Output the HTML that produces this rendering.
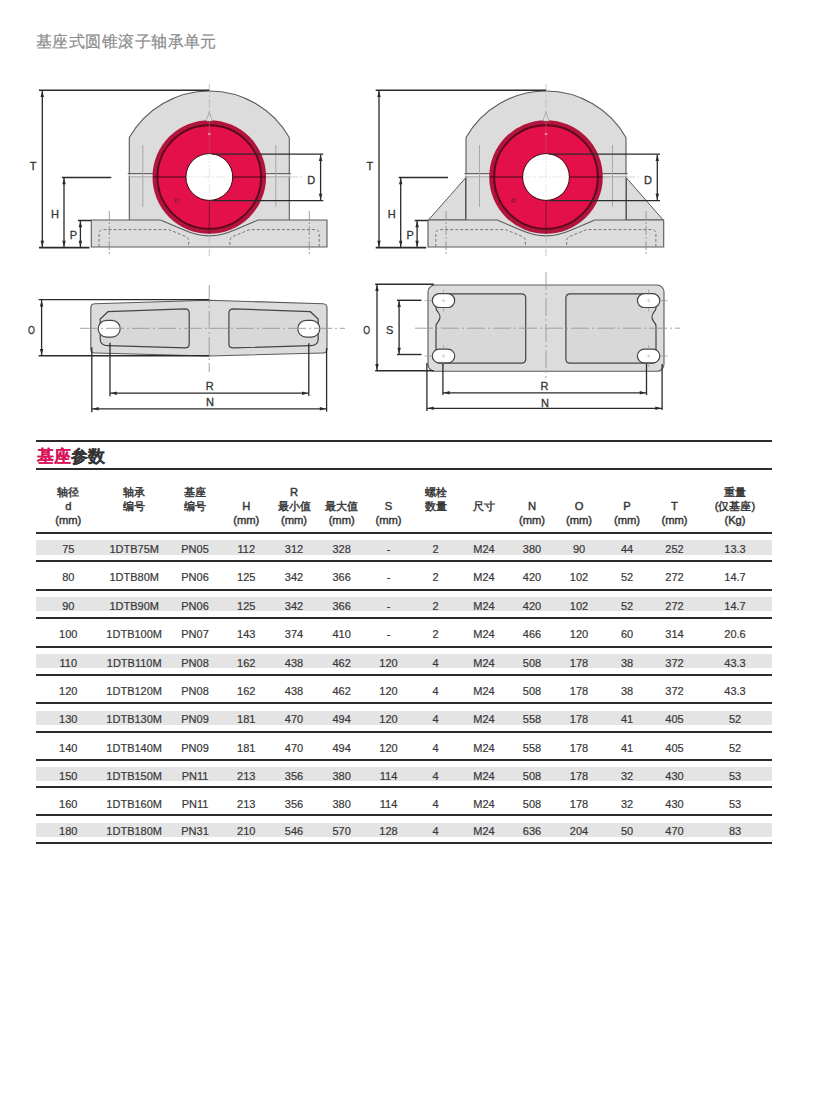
<!DOCTYPE html>
<html><head><meta charset="utf-8"><style>
html,body{margin:0;padding:0;background:#fff;}
body{width:830px;height:1114px;position:relative;overflow:hidden;font-family:"Liberation Sans",sans-serif;}
svg{position:absolute;left:0;top:0;}
svg text{font-family:"Liberation Sans",sans-serif;}
.title{position:absolute;left:36px;top:32.5px;font-size:15.5px;color:#8c8c8c;letter-spacing:0.45px;-webkit-text-stroke:0.2px #8c8c8c;line-height:18px;white-space:nowrap;}
.sec{position:absolute;left:37px;top:446px;font-size:16.5px;font-weight:bold;color:#333;-webkit-text-stroke:0.15px #333;line-height:20px;white-space:nowrap;}
.sec span{color:#d8145a;-webkit-text-stroke:0.15px #d8145a;}
.ln{position:absolute;left:36px;width:736px;background:#2b2b2b;}
.band{position:absolute;left:36px;width:736px;height:14.2px;background:#e4e4e5;}
.t{position:absolute;width:80px;text-align:center;white-space:nowrap;color:#383838;}
.h{font-size:11.2px;line-height:14px;-webkit-text-stroke:0.45px #383838;}
.d{font-size:11px;line-height:13px;-webkit-text-stroke:0.2px #383838;}
</style></head><body>
<div class="title">基座式圆锥滚子轴承单元</div>
<svg width="830" height="1114" viewBox="0 0 830 1114">
<g>
<path d="M129.3,221 L129.3,137.6 A92,92 0 0 1 289.3,137.6 L289.3,221 Z" fill="#dcdcdd" stroke="#5a5a5a" stroke-width="1.1"/>
<rect x="91.3" y="220" width="235.7" height="27" fill="#dcdcdd"/>
<path d="M160.5,220 L91.3,220 L91.3,247 L327,247 L327,220 L258.1,220" fill="none" stroke="#5a5a5a" stroke-width="1.1"/>
<path d="M160.5,220 L176.3,226.8 Q181.3,228.8 185.3,230.5 A58.6,58.6 0 0 0 233.3,230.5 Q237.3,228.8 242.3,226.8 L258.1,220" fill="none" stroke="#5a5a5a" stroke-width="1.1"/>
<line x1="127.80000000000001" y1="173.6" x2="290.8" y2="173.6" stroke="#666" stroke-width="1.1" />
<line x1="127.80000000000001" y1="175.2" x2="290.8" y2="175.2" stroke="#f4f4f4" stroke-width="1.0" />
<line x1="127.80000000000001" y1="176.9" x2="290.8" y2="176.9" stroke="#a8a8a8" stroke-width="1.0" />
<line x1="142.8" y1="145" x2="142.8" y2="207" stroke="#a8a8a8" stroke-width="1.0" />
<line x1="275.8" y1="145" x2="275.8" y2="207" stroke="#a8a8a8" stroke-width="1.0" />
<path d="M99.1,247 L99.1,234 Q99.1,229.6 103.3,229.6 L168.8,229.6 L185.8,236.5 Q188.70000000000002,238 188.70000000000002,241 L188.70000000000002,247" fill="none" stroke="#777" stroke-width="1" stroke-dasharray="3 2"/>
<path d="M319.2,247 L319.2,234 Q319.2,229.6 315,229.6 L249.8,229.6 L232.8,236.5 Q229.9,238 229.9,241 L229.9,247" fill="none" stroke="#777" stroke-width="1" stroke-dasharray="3 2"/>
<line x1="109.30000000000001" y1="211" x2="109.30000000000001" y2="256" stroke="#888" stroke-width="0.8" stroke-dasharray="9 2 2 2"/>
<line x1="309.3" y1="211" x2="309.3" y2="256" stroke="#888" stroke-width="0.8" stroke-dasharray="9 2 2 2"/>
<circle cx="209.3" cy="177" r="56.8" fill="#b3143d"/>
<circle cx="209.3" cy="177" r="51.8" fill="#e3104a" stroke="#5a0a1c" stroke-width="1.9"/>
<circle cx="209.3" cy="177" r="23.4" fill="#fff" stroke="#3a0a12" stroke-width="1"/>
<path d="M206.3,121 L209.3,112 L212.3,121 Z" fill="#eee" stroke="#888" stroke-width="0.6"/>
<circle cx="209.3" cy="134" r="1.3" fill="#f3b0c0"/>
<rect x="175.3" y="199" width="3" height="3" fill="none" stroke="#7a1a2a" stroke-width="0.8"/>
<line x1="209.3" y1="84" x2="209.3" y2="120" stroke="#b8b8b8" stroke-width="0.8" stroke-dasharray="9 2 2 2"/>
<line x1="209.3" y1="200.5" x2="209.3" y2="234" stroke="#6a1424" stroke-width="0.8" />
<line x1="209.3" y1="121" x2="209.3" y2="153.5" stroke="#c04a60" stroke-width="0.7" />
<line x1="209.3" y1="154" x2="209.3" y2="200" stroke="#dddddd" stroke-width="0.7" stroke-dasharray="9 2 2 2"/>
<line x1="186.3" y1="177" x2="232.3" y2="177" stroke="#dddddd" stroke-width="0.7" stroke-dasharray="9 2 2 2"/>
<line x1="209.3" y1="234" x2="209.3" y2="256" stroke="#b8b8b8" stroke-width="0.8" stroke-dasharray="9 2 2 2"/>
<line x1="289.3" y1="177" x2="304.3" y2="177" stroke="#c8c8c8" stroke-width="0.8" stroke-dasharray="9 2 2 2"/>
<line x1="153.3" y1="177" x2="186.3" y2="177" stroke="#3a0a12" stroke-width="1.2" />
<line x1="232.3" y1="177" x2="265.3" y2="177" stroke="#3a0a12" stroke-width="1.2" />
<line x1="39" y1="90.2" x2="209.3" y2="90.2" stroke="#2a2a2a" stroke-width="1.5" />
<line x1="39" y1="247.6" x2="89.5" y2="247.6" stroke="#2a2a2a" stroke-width="1.8" />
<line x1="42.3" y1="90" x2="42.3" y2="247.6" stroke="#2a2a2a" stroke-width="1.3" />
<polygon points="42.3,91 40.55,97 44.05,97" fill="#2a2a2a"/>
<polygon points="42.3,246.8 40.55,240.8 44.05,240.8" fill="#2a2a2a"/>
<text x="33.2" y="170" font-size="11" fill="#333" stroke="#333" stroke-width="0.3" text-anchor="middle">T</text>
<line x1="62" y1="177.5" x2="111.30000000000001" y2="177.5" stroke="#2a2a2a" stroke-width="1.3" />
<line x1="64" y1="177.5" x2="64" y2="247.6" stroke="#2a2a2a" stroke-width="1.3" />
<polygon points="64,178.3 62.25,184.3 65.75,184.3" fill="#2a2a2a"/>
<polygon points="64,246.8 62.25,240.8 65.75,240.8" fill="#2a2a2a"/>
<text x="55" y="218" font-size="11" fill="#333" stroke="#333" stroke-width="0.3" text-anchor="middle">H</text>
<line x1="78" y1="220.5" x2="91" y2="220.5" stroke="#2a2a2a" stroke-width="1.5" />
<line x1="80.4" y1="220.5" x2="80.4" y2="247.6" stroke="#2a2a2a" stroke-width="1.3" />
<polygon points="80.4,221.3 78.65,227.3 82.15,227.3" fill="#2a2a2a"/>
<polygon points="80.4,246.8 78.65,240.8 82.15,240.8" fill="#2a2a2a"/>
<text x="73.5" y="239" font-size="11" fill="#333" stroke="#333" stroke-width="0.3" text-anchor="middle">P</text>
<line x1="212.3" y1="154.2" x2="323.3" y2="154.2" stroke="#2a2a2a" stroke-width="1.3" />
<line x1="212.3" y1="200.6" x2="323.3" y2="200.6" stroke="#2a2a2a" stroke-width="1.3" />
<line x1="320.6" y1="154.2" x2="320.6" y2="200.6" stroke="#2a2a2a" stroke-width="1.3" />
<polygon points="320.6,155 318.85,161 322.35,161" fill="#2a2a2a"/>
<polygon points="320.6,199.8 318.85,193.8 322.35,193.8" fill="#2a2a2a"/>
<text x="311.3" y="183.5" font-size="11" fill="#333" stroke="#333" stroke-width="0.3" text-anchor="middle">D</text>
</g>
<g>
<polygon points="428.5,220 465.5,178 465.5,220" fill="#dcdcdd" stroke="#5a5a5a" stroke-width="1"/>
<polygon points="663.2,220 626.5,178 626.5,220" fill="#dcdcdd" stroke="#5a5a5a" stroke-width="1"/>
<path d="M466.0,221 L466.0,137.6 A92,92 0 0 1 626.0,137.6 L626.0,221 Z" fill="#dcdcdd" stroke="#5a5a5a" stroke-width="1.1"/>
<rect x="428.0" y="220" width="235.70000000000005" height="27" fill="#dcdcdd"/>
<path d="M497.2,220 L428.0,220 L428.0,247 L663.7,247 L663.7,220 L594.8,220" fill="none" stroke="#5a5a5a" stroke-width="1.1"/>
<path d="M497.2,220 L513.0,226.8 Q518.0,228.8 522.0,230.5 A58.6,58.6 0 0 0 570.0,230.5 Q574.0,228.8 579.0,226.8 L594.8,220" fill="none" stroke="#5a5a5a" stroke-width="1.1"/>
<line x1="464.5" y1="173.6" x2="627.5" y2="173.6" stroke="#666" stroke-width="1.1" />
<line x1="464.5" y1="175.2" x2="627.5" y2="175.2" stroke="#f4f4f4" stroke-width="1.0" />
<line x1="464.5" y1="176.9" x2="627.5" y2="176.9" stroke="#a8a8a8" stroke-width="1.0" />
<line x1="479.5" y1="145" x2="479.5" y2="207" stroke="#a8a8a8" stroke-width="1.0" />
<line x1="612.5" y1="145" x2="612.5" y2="207" stroke="#a8a8a8" stroke-width="1.0" />
<path d="M435.8,247 L435.8,234 Q435.8,229.6 440.0,229.6 L505.5,229.6 L522.5,236.5 Q525.4,238 525.4,241 L525.4,247" fill="none" stroke="#777" stroke-width="1" stroke-dasharray="3 2"/>
<path d="M655.9000000000001,247 L655.9000000000001,234 Q655.9000000000001,229.6 651.7,229.6 L586.5,229.6 L569.5,236.5 Q566.6,238 566.6,241 L566.6,247" fill="none" stroke="#777" stroke-width="1" stroke-dasharray="3 2"/>
<line x1="446.0" y1="211" x2="446.0" y2="256" stroke="#888" stroke-width="0.8" stroke-dasharray="9 2 2 2"/>
<line x1="646.0" y1="211" x2="646.0" y2="256" stroke="#888" stroke-width="0.8" stroke-dasharray="9 2 2 2"/>
<circle cx="546.0" cy="177" r="56.8" fill="#b3143d"/>
<circle cx="546.0" cy="177" r="51.8" fill="#e3104a" stroke="#5a0a1c" stroke-width="1.9"/>
<circle cx="546.0" cy="177" r="23.4" fill="#fff" stroke="#3a0a12" stroke-width="1"/>
<path d="M543.0,121 L546.0,112 L549.0,121 Z" fill="#eee" stroke="#888" stroke-width="0.6"/>
<circle cx="546.0" cy="134" r="1.3" fill="#f3b0c0"/>
<rect x="512.0" y="199" width="3" height="3" fill="none" stroke="#7a1a2a" stroke-width="0.8"/>
<line x1="546.0" y1="84" x2="546.0" y2="120" stroke="#b8b8b8" stroke-width="0.8" stroke-dasharray="9 2 2 2"/>
<line x1="546.0" y1="200.5" x2="546.0" y2="234" stroke="#6a1424" stroke-width="0.8" />
<line x1="546.0" y1="121" x2="546.0" y2="153.5" stroke="#c04a60" stroke-width="0.7" />
<line x1="546.0" y1="154" x2="546.0" y2="200" stroke="#dddddd" stroke-width="0.7" stroke-dasharray="9 2 2 2"/>
<line x1="523.0" y1="177" x2="569.0" y2="177" stroke="#dddddd" stroke-width="0.7" stroke-dasharray="9 2 2 2"/>
<line x1="546.0" y1="234" x2="546.0" y2="256" stroke="#b8b8b8" stroke-width="0.8" stroke-dasharray="9 2 2 2"/>
<line x1="626.0" y1="177" x2="641.0" y2="177" stroke="#c8c8c8" stroke-width="0.8" stroke-dasharray="9 2 2 2"/>
<line x1="490.0" y1="177" x2="523.0" y2="177" stroke="#3a0a12" stroke-width="1.2" />
<line x1="569.0" y1="177" x2="602.0" y2="177" stroke="#3a0a12" stroke-width="1.2" />
<line x1="375.7" y1="90.2" x2="546.0" y2="90.2" stroke="#2a2a2a" stroke-width="1.5" />
<line x1="375.7" y1="247.6" x2="426.2" y2="247.6" stroke="#2a2a2a" stroke-width="1.8" />
<line x1="379.0" y1="90" x2="379.0" y2="247.6" stroke="#2a2a2a" stroke-width="1.3" />
<polygon points="379.0,91 377.25,97 380.75,97" fill="#2a2a2a"/>
<polygon points="379.0,246.8 377.25,240.8 380.75,240.8" fill="#2a2a2a"/>
<text x="369.9" y="170" font-size="11" fill="#333" stroke="#333" stroke-width="0.3" text-anchor="middle">T</text>
<line x1="398.7" y1="177.5" x2="448.0" y2="177.5" stroke="#2a2a2a" stroke-width="1.3" />
<line x1="400.7" y1="177.5" x2="400.7" y2="247.6" stroke="#2a2a2a" stroke-width="1.3" />
<polygon points="400.7,178.3 398.95,184.3 402.45,184.3" fill="#2a2a2a"/>
<polygon points="400.7,246.8 398.95,240.8 402.45,240.8" fill="#2a2a2a"/>
<text x="391.7" y="218" font-size="11" fill="#333" stroke="#333" stroke-width="0.3" text-anchor="middle">H</text>
<line x1="414.7" y1="220.5" x2="427.7" y2="220.5" stroke="#2a2a2a" stroke-width="1.5" />
<line x1="417.1" y1="220.5" x2="417.1" y2="247.6" stroke="#2a2a2a" stroke-width="1.3" />
<polygon points="417.1,221.3 415.35,227.3 418.85,227.3" fill="#2a2a2a"/>
<polygon points="417.1,246.8 415.35,240.8 418.85,240.8" fill="#2a2a2a"/>
<text x="410.2" y="239" font-size="11" fill="#333" stroke="#333" stroke-width="0.3" text-anchor="middle">P</text>
<line x1="549.0" y1="154.2" x2="660.0" y2="154.2" stroke="#2a2a2a" stroke-width="1.3" />
<line x1="549.0" y1="200.6" x2="660.0" y2="200.6" stroke="#2a2a2a" stroke-width="1.3" />
<line x1="657.3" y1="154.2" x2="657.3" y2="200.6" stroke="#2a2a2a" stroke-width="1.3" />
<polygon points="657.3,155 655.55,161 659.05,161" fill="#2a2a2a"/>
<polygon points="657.3,199.8 655.55,193.8 659.05,193.8" fill="#2a2a2a"/>
<text x="648.0" y="183.5" font-size="11" fill="#333" stroke="#333" stroke-width="0.3" text-anchor="middle">D</text>
</g>
<path d="M94.8,303.8 L209.2,300.2 L323,303.8 Q327,304 327,308 L327,349 Q327,353 323,353 L209.2,356 L94.8,353 Q90.8,353 90.8,349 L90.8,308 Q90.8,303.8 94.8,303.8 Z" fill="#dcdcdd" stroke="#5a5a5a" stroke-width="1.1"/>
<path d="M108,311.7 L185,308.9 Q189.2,308.9 189.2,313 L189.2,344 Q189.2,347.9 185,347.9 L108,345.7 Q100.2,345.7 100.2,339 L100.2,319 Z" fill="#d8d8d9" stroke="#444" stroke-width="1.2"/>
<path d="M310.4,311.7 L233.4,308.9 Q228.9,308.9 228.9,313 L228.9,344 Q228.9,347.9 233.4,347.9 L310.4,345.7 Q318.2,345.7 318.2,339 L318.2,319 Z" fill="#d8d8d9" stroke="#444" stroke-width="1.2"/>
<rect x="98.2" y="320.3" width="22" height="16.8" rx="8.4" fill="#fff" stroke="#444" stroke-width="1.2"/>
<rect x="297.8" y="320.3" width="22" height="16.8" rx="8.4" fill="#fff" stroke="#444" stroke-width="1.2"/>
<line x1="80" y1="328.3" x2="345" y2="328.3" stroke="#999" stroke-width="0.9" stroke-dasharray="18 3 2 3"/>
<line x1="209.2" y1="285" x2="209.2" y2="372" stroke="#999" stroke-width="0.9" stroke-dasharray="18 3 2 3"/>
<line x1="38.7" y1="299.6" x2="209.2" y2="299.6" stroke="#2a2a2a" stroke-width="1.4" />
<line x1="38.7" y1="355.8" x2="209.2" y2="355.8" stroke="#2a2a2a" stroke-width="1.4" />
<line x1="41.6" y1="299.6" x2="41.6" y2="355.8" stroke="#2a2a2a" stroke-width="1.3" />
<polygon points="41.6,300.4 39.85,306.4 43.35,306.4" fill="#2a2a2a"/>
<polygon points="41.6,355 39.85,349 43.35,349" fill="#2a2a2a"/>
<text transform="translate(31.5,333.5) scale(0.8,1)" x="0" y="0" font-size="11" fill="#333" stroke="#333" stroke-width="0.3" text-anchor="middle">O</text>
<line x1="110" y1="342.8" x2="110" y2="396.3" stroke="#2a2a2a" stroke-width="1.3" />
<line x1="308.8" y1="343.2" x2="308.8" y2="395.9" stroke="#2a2a2a" stroke-width="1.3" />
<line x1="110" y1="393.2" x2="308.8" y2="393.2" stroke="#2a2a2a" stroke-width="1.3" />
<polygon points="110.8,393.2 116.8,391.45 116.8,394.95" fill="#2a2a2a"/>
<polygon points="308,393.2 302,391.45 302,394.95" fill="#2a2a2a"/>
<text x="209.7" y="389.8" font-size="11" fill="#333" stroke="#333" stroke-width="0.3" text-anchor="middle">R</text>
<line x1="91.8" y1="347.2" x2="91.8" y2="412.2" stroke="#2a2a2a" stroke-width="1.3" />
<line x1="326.6" y1="348" x2="326.6" y2="411.7" stroke="#2a2a2a" stroke-width="1.3" />
<line x1="91.8" y1="408.8" x2="326.6" y2="408.8" stroke="#2a2a2a" stroke-width="1.3" />
<polygon points="92.6,408.8 98.6,407.05 98.6,410.55" fill="#2a2a2a"/>
<polygon points="325.8,408.8 319.8,407.05 319.8,410.55" fill="#2a2a2a"/>
<text x="210" y="406.4" font-size="11" fill="#333" stroke="#333" stroke-width="0.3" text-anchor="middle">N</text>
<rect x="428" y="285" width="236" height="86.3" rx="7" fill="#dcdcdd" stroke="#5a5a5a" stroke-width="1.1"/>
<path d="M440,293.8 L521.5,293.8 Q525.7,293.8 525.7,298 L525.7,359 Q525.7,363.2 521.5,363.2 L440,363.2 Q436,363.2 436,359 L436,326 Q436,324 438,322 Q442,317 438,312 Q436,310 436,308 L436,298 Q436,293.8 440,293.8 Z" fill="#d8d8d9" stroke="#444" stroke-width="1.2"/>
<path d="M652,293.8 L570.1,293.8 Q565.9,293.8 565.9,298 L565.9,359 Q565.9,363.2 570.1,363.2 L652,363.2 Q656,363.2 656,359 L656,326 Q656,324 654,322 Q650,317 654,312 Q656,310 656,308 L656,298 Q656,293.8 652,293.8 Z" fill="#d8d8d9" stroke="#444" stroke-width="1.2"/>
<rect x="432.3" y="293.70000000000005" width="22.4" height="13.8" rx="6.9" fill="#fff" stroke="#444" stroke-width="1.2"/>
<line x1="441.5" y1="300.6" x2="445.5" y2="300.6" stroke="#c8c8c8" stroke-width="0.7" />
<line x1="443.5" y1="298.6" x2="443.5" y2="302.6" stroke="#c8c8c8" stroke-width="0.7" />
<line x1="432.0" y1="300.6" x2="424.5" y2="300.6" stroke="#9a9a9a" stroke-width="0.7" />
<line x1="443.5" y1="293.40000000000003" x2="443.5" y2="289.6" stroke="#9a9a9a" stroke-width="0.7" />
<line x1="443.5" y1="307.8" x2="443.5" y2="311.6" stroke="#9a9a9a" stroke-width="0.7" />
<rect x="432.3" y="349.1" width="22.4" height="13.8" rx="6.9" fill="#fff" stroke="#444" stroke-width="1.2"/>
<line x1="441.5" y1="356" x2="445.5" y2="356" stroke="#c8c8c8" stroke-width="0.7" />
<line x1="443.5" y1="354" x2="443.5" y2="358" stroke="#c8c8c8" stroke-width="0.7" />
<line x1="432.0" y1="356" x2="424.5" y2="356" stroke="#9a9a9a" stroke-width="0.7" />
<line x1="443.5" y1="348.8" x2="443.5" y2="345" stroke="#9a9a9a" stroke-width="0.7" />
<line x1="443.5" y1="363.2" x2="443.5" y2="367" stroke="#9a9a9a" stroke-width="0.7" />
<rect x="637.4" y="293.70000000000005" width="22.4" height="13.8" rx="6.9" fill="#fff" stroke="#444" stroke-width="1.2"/>
<line x1="646.6" y1="300.6" x2="650.6" y2="300.6" stroke="#c8c8c8" stroke-width="0.7" />
<line x1="648.6" y1="298.6" x2="648.6" y2="302.6" stroke="#c8c8c8" stroke-width="0.7" />
<line x1="660.1" y1="300.6" x2="667.6" y2="300.6" stroke="#9a9a9a" stroke-width="0.7" />
<line x1="648.6" y1="293.40000000000003" x2="648.6" y2="289.6" stroke="#9a9a9a" stroke-width="0.7" />
<line x1="648.6" y1="307.8" x2="648.6" y2="311.6" stroke="#9a9a9a" stroke-width="0.7" />
<rect x="637.4" y="349.1" width="22.4" height="13.8" rx="6.9" fill="#fff" stroke="#444" stroke-width="1.2"/>
<line x1="646.6" y1="356" x2="650.6" y2="356" stroke="#c8c8c8" stroke-width="0.7" />
<line x1="648.6" y1="354" x2="648.6" y2="358" stroke="#c8c8c8" stroke-width="0.7" />
<line x1="660.1" y1="356" x2="667.6" y2="356" stroke="#9a9a9a" stroke-width="0.7" />
<line x1="648.6" y1="348.8" x2="648.6" y2="345" stroke="#9a9a9a" stroke-width="0.7" />
<line x1="648.6" y1="363.2" x2="648.6" y2="367" stroke="#9a9a9a" stroke-width="0.7" />
<line x1="415" y1="328.2" x2="680" y2="328.2" stroke="#999" stroke-width="0.9" stroke-dasharray="18 3 2 3"/>
<line x1="546" y1="272" x2="546" y2="378" stroke="#999" stroke-width="0.9" stroke-dasharray="18 3 2 3"/>
<line x1="375.2" y1="284.2" x2="433.8" y2="284.2" stroke="#2a2a2a" stroke-width="1.4" />
<line x1="375.2" y1="370.7" x2="433.8" y2="370.7" stroke="#2a2a2a" stroke-width="1.4" />
<line x1="377" y1="284.2" x2="377" y2="370.7" stroke="#2a2a2a" stroke-width="1.3" />
<polygon points="377,285 375.25,291 378.75,291" fill="#2a2a2a"/>
<polygon points="377,369.9 375.25,363.9 378.75,363.9" fill="#2a2a2a"/>
<text transform="translate(366.6,334.3) scale(0.8,1)" x="0" y="0" font-size="11" fill="#333" stroke="#333" stroke-width="0.3" text-anchor="middle">O</text>
<line x1="397" y1="300.3" x2="421.5" y2="300.3" stroke="#2a2a2a" stroke-width="1.4" />
<line x1="397" y1="354.5" x2="421.5" y2="354.5" stroke="#2a2a2a" stroke-width="1.4" />
<line x1="399.1" y1="300.3" x2="399.1" y2="354.5" stroke="#2a2a2a" stroke-width="1.3" />
<polygon points="399.1,301.1 397.35,307.1 400.85,307.1" fill="#2a2a2a"/>
<polygon points="399.1,353.7 397.35,347.7 400.85,347.7" fill="#2a2a2a"/>
<text x="389.7" y="334.3" font-size="11" fill="#333" stroke="#333" stroke-width="0.3" text-anchor="middle">S</text>
<line x1="442.9" y1="364" x2="442.9" y2="395" stroke="#2a2a2a" stroke-width="1.3" />
<line x1="646.5" y1="364" x2="646.5" y2="395" stroke="#2a2a2a" stroke-width="1.3" />
<line x1="442.9" y1="392.8" x2="646.5" y2="392.8" stroke="#2a2a2a" stroke-width="1.3" />
<polygon points="443.7,392.8 449.7,391.05 449.7,394.55" fill="#2a2a2a"/>
<polygon points="645.7,392.8 639.7,391.05 639.7,394.55" fill="#2a2a2a"/>
<text x="544.4" y="390" font-size="11" fill="#333" stroke="#333" stroke-width="0.3" text-anchor="middle">R</text>
<line x1="426.9" y1="363" x2="426.9" y2="410.9" stroke="#2a2a2a" stroke-width="1.3" />
<line x1="662.1" y1="364" x2="662.1" y2="410" stroke="#2a2a2a" stroke-width="1.3" />
<line x1="426.9" y1="408.3" x2="662.1" y2="408.3" stroke="#2a2a2a" stroke-width="1.3" />
<polygon points="427.7,408.3 433.7,406.55 433.7,410.05" fill="#2a2a2a"/>
<polygon points="661.3,408.3 655.3,406.55 655.3,410.05" fill="#2a2a2a"/>
<text x="545" y="406.6" font-size="11" fill="#333" stroke="#333" stroke-width="0.3" text-anchor="middle">N</text>
</svg>
<div class="sec"><span>基座</span>参数</div>
<div class="t h" style="left:28.299999999999997px;top:485.3px">轴径</div>
<div class="t h" style="left:28.299999999999997px;top:498.90000000000003px">d</div>
<div class="t h" style="left:28.299999999999997px;top:512.5px">(mm)</div>
<div class="t h" style="left:94.19999999999999px;top:485.3px">轴承</div>
<div class="t h" style="left:94.19999999999999px;top:498.90000000000003px">编号</div>
<div class="t h" style="left:155px;top:485.3px">基座</div>
<div class="t h" style="left:155px;top:498.90000000000003px">编号</div>
<div class="t h" style="left:206.3px;top:498.90000000000003px">H</div>
<div class="t h" style="left:206.3px;top:512.5px">(mm)</div>
<div class="t h" style="left:254px;top:485.3px">R</div>
<div class="t h" style="left:254px;top:498.90000000000003px">最小值</div>
<div class="t h" style="left:254px;top:512.5px">(mm)</div>
<div class="t h" style="left:301.7px;top:498.90000000000003px">最大值</div>
<div class="t h" style="left:301.7px;top:512.5px">(mm)</div>
<div class="t h" style="left:348.5px;top:498.90000000000003px">S</div>
<div class="t h" style="left:348.5px;top:512.5px">(mm)</div>
<div class="t h" style="left:395.5px;top:485.3px">螺栓</div>
<div class="t h" style="left:395.5px;top:498.90000000000003px">数量</div>
<div class="t h" style="left:444px;top:498.90000000000003px">尺寸</div>
<div class="t h" style="left:492px;top:498.90000000000003px">N</div>
<div class="t h" style="left:492px;top:512.5px">(mm)</div>
<div class="t h" style="left:539px;top:498.90000000000003px">O</div>
<div class="t h" style="left:539px;top:512.5px">(mm)</div>
<div class="t h" style="left:587px;top:498.90000000000003px">P</div>
<div class="t h" style="left:587px;top:512.5px">(mm)</div>
<div class="t h" style="left:634.5px;top:498.90000000000003px">T</div>
<div class="t h" style="left:634.5px;top:512.5px">(mm)</div>
<div class="t h" style="left:695px;top:485.3px">重量</div>
<div class="t h" style="left:695px;top:498.90000000000003px">(仅基座)</div>
<div class="t h" style="left:695px;top:512.5px">(Kg)</div>
<div class="ln" style="top:440.40px;height:2px"></div>
<div class="ln" style="top:467.90px;height:2px"></div>
<div class="ln" style="top:531.80px;height:2px"></div>
<div class="band" style="top:540.40px"></div>
<div class="ln" style="top:560.30px;height:2px"></div>
<div class="t d" style="left:28.299999999999997px;top:542.90px">75</div>
<div class="t d" style="left:94.19999999999999px;top:542.90px">1DTB75M</div>
<div class="t d" style="left:155px;top:542.90px">PN05</div>
<div class="t d" style="left:206.3px;top:542.90px">112</div>
<div class="t d" style="left:254px;top:542.90px">312</div>
<div class="t d" style="left:301.7px;top:542.90px">328</div>
<div class="t d" style="left:348.5px;top:542.90px">-</div>
<div class="t d" style="left:395.5px;top:542.90px">2</div>
<div class="t d" style="left:444px;top:542.90px">M24</div>
<div class="t d" style="left:492px;top:542.90px">380</div>
<div class="t d" style="left:539px;top:542.90px">90</div>
<div class="t d" style="left:587px;top:542.90px">44</div>
<div class="t d" style="left:634.5px;top:542.90px">252</div>
<div class="t d" style="left:695px;top:542.90px">13.3</div>
<div class="ln" style="top:588.60px;height:2px"></div>
<div class="t d" style="left:28.299999999999997px;top:571.40px">80</div>
<div class="t d" style="left:94.19999999999999px;top:571.40px">1DTB80M</div>
<div class="t d" style="left:155px;top:571.40px">PN06</div>
<div class="t d" style="left:206.3px;top:571.40px">125</div>
<div class="t d" style="left:254px;top:571.40px">342</div>
<div class="t d" style="left:301.7px;top:571.40px">366</div>
<div class="t d" style="left:348.5px;top:571.40px">-</div>
<div class="t d" style="left:395.5px;top:571.40px">2</div>
<div class="t d" style="left:444px;top:571.40px">M24</div>
<div class="t d" style="left:492px;top:571.40px">420</div>
<div class="t d" style="left:539px;top:571.40px">102</div>
<div class="t d" style="left:587px;top:571.40px">52</div>
<div class="t d" style="left:634.5px;top:571.40px">272</div>
<div class="t d" style="left:695px;top:571.40px">14.7</div>
<div class="band" style="top:597.20px"></div>
<div class="ln" style="top:617.20px;height:2px"></div>
<div class="t d" style="left:28.299999999999997px;top:599.70px">90</div>
<div class="t d" style="left:94.19999999999999px;top:599.70px">1DTB90M</div>
<div class="t d" style="left:155px;top:599.70px">PN06</div>
<div class="t d" style="left:206.3px;top:599.70px">125</div>
<div class="t d" style="left:254px;top:599.70px">342</div>
<div class="t d" style="left:301.7px;top:599.70px">366</div>
<div class="t d" style="left:348.5px;top:599.70px">-</div>
<div class="t d" style="left:395.5px;top:599.70px">2</div>
<div class="t d" style="left:444px;top:599.70px">M24</div>
<div class="t d" style="left:492px;top:599.70px">420</div>
<div class="t d" style="left:539px;top:599.70px">102</div>
<div class="t d" style="left:587px;top:599.70px">52</div>
<div class="t d" style="left:634.5px;top:599.70px">272</div>
<div class="t d" style="left:695px;top:599.70px">14.7</div>
<div class="ln" style="top:645.60px;height:2px"></div>
<div class="t d" style="left:28.299999999999997px;top:628.30px">100</div>
<div class="t d" style="left:94.19999999999999px;top:628.30px">1DTB100M</div>
<div class="t d" style="left:155px;top:628.30px">PN07</div>
<div class="t d" style="left:206.3px;top:628.30px">143</div>
<div class="t d" style="left:254px;top:628.30px">374</div>
<div class="t d" style="left:301.7px;top:628.30px">410</div>
<div class="t d" style="left:348.5px;top:628.30px">-</div>
<div class="t d" style="left:395.5px;top:628.30px">2</div>
<div class="t d" style="left:444px;top:628.30px">M24</div>
<div class="t d" style="left:492px;top:628.30px">466</div>
<div class="t d" style="left:539px;top:628.30px">120</div>
<div class="t d" style="left:587px;top:628.30px">60</div>
<div class="t d" style="left:634.5px;top:628.30px">314</div>
<div class="t d" style="left:695px;top:628.30px">20.6</div>
<div class="band" style="top:654.20px"></div>
<div class="ln" style="top:673.90px;height:2px"></div>
<div class="t d" style="left:28.299999999999997px;top:656.70px">110</div>
<div class="t d" style="left:94.19999999999999px;top:656.70px">1DTB110M</div>
<div class="t d" style="left:155px;top:656.70px">PN08</div>
<div class="t d" style="left:206.3px;top:656.70px">162</div>
<div class="t d" style="left:254px;top:656.70px">438</div>
<div class="t d" style="left:301.7px;top:656.70px">462</div>
<div class="t d" style="left:348.5px;top:656.70px">120</div>
<div class="t d" style="left:395.5px;top:656.70px">4</div>
<div class="t d" style="left:444px;top:656.70px">M24</div>
<div class="t d" style="left:492px;top:656.70px">508</div>
<div class="t d" style="left:539px;top:656.70px">178</div>
<div class="t d" style="left:587px;top:656.70px">38</div>
<div class="t d" style="left:634.5px;top:656.70px">372</div>
<div class="t d" style="left:695px;top:656.70px">43.3</div>
<div class="ln" style="top:702.30px;height:2px"></div>
<div class="t d" style="left:28.299999999999997px;top:685.00px">120</div>
<div class="t d" style="left:94.19999999999999px;top:685.00px">1DTB120M</div>
<div class="t d" style="left:155px;top:685.00px">PN08</div>
<div class="t d" style="left:206.3px;top:685.00px">162</div>
<div class="t d" style="left:254px;top:685.00px">438</div>
<div class="t d" style="left:301.7px;top:685.00px">462</div>
<div class="t d" style="left:348.5px;top:685.00px">120</div>
<div class="t d" style="left:395.5px;top:685.00px">4</div>
<div class="t d" style="left:444px;top:685.00px">M24</div>
<div class="t d" style="left:492px;top:685.00px">508</div>
<div class="t d" style="left:539px;top:685.00px">178</div>
<div class="t d" style="left:587px;top:685.00px">38</div>
<div class="t d" style="left:634.5px;top:685.00px">372</div>
<div class="t d" style="left:695px;top:685.00px">43.3</div>
<div class="band" style="top:710.90px"></div>
<div class="ln" style="top:730.60px;height:2px"></div>
<div class="t d" style="left:28.299999999999997px;top:713.40px">130</div>
<div class="t d" style="left:94.19999999999999px;top:713.40px">1DTB130M</div>
<div class="t d" style="left:155px;top:713.40px">PN09</div>
<div class="t d" style="left:206.3px;top:713.40px">181</div>
<div class="t d" style="left:254px;top:713.40px">470</div>
<div class="t d" style="left:301.7px;top:713.40px">494</div>
<div class="t d" style="left:348.5px;top:713.40px">120</div>
<div class="t d" style="left:395.5px;top:713.40px">4</div>
<div class="t d" style="left:444px;top:713.40px">M24</div>
<div class="t d" style="left:492px;top:713.40px">558</div>
<div class="t d" style="left:539px;top:713.40px">178</div>
<div class="t d" style="left:587px;top:713.40px">41</div>
<div class="t d" style="left:634.5px;top:713.40px">405</div>
<div class="t d" style="left:695px;top:713.40px">52</div>
<div class="ln" style="top:758.60px;height:2px"></div>
<div class="t d" style="left:28.299999999999997px;top:741.70px">140</div>
<div class="t d" style="left:94.19999999999999px;top:741.70px">1DTB140M</div>
<div class="t d" style="left:155px;top:741.70px">PN09</div>
<div class="t d" style="left:206.3px;top:741.70px">181</div>
<div class="t d" style="left:254px;top:741.70px">470</div>
<div class="t d" style="left:301.7px;top:741.70px">494</div>
<div class="t d" style="left:348.5px;top:741.70px">120</div>
<div class="t d" style="left:395.5px;top:741.70px">4</div>
<div class="t d" style="left:444px;top:741.70px">M24</div>
<div class="t d" style="left:492px;top:741.70px">558</div>
<div class="t d" style="left:539px;top:741.70px">178</div>
<div class="t d" style="left:587px;top:741.70px">41</div>
<div class="t d" style="left:634.5px;top:741.70px">405</div>
<div class="t d" style="left:695px;top:741.70px">52</div>
<div class="band" style="top:767.20px"></div>
<div class="ln" style="top:786.40px;height:2px"></div>
<div class="t d" style="left:28.299999999999997px;top:769.70px">150</div>
<div class="t d" style="left:94.19999999999999px;top:769.70px">1DTB150M</div>
<div class="t d" style="left:155px;top:769.70px">PN11</div>
<div class="t d" style="left:206.3px;top:769.70px">213</div>
<div class="t d" style="left:254px;top:769.70px">356</div>
<div class="t d" style="left:301.7px;top:769.70px">380</div>
<div class="t d" style="left:348.5px;top:769.70px">114</div>
<div class="t d" style="left:395.5px;top:769.70px">4</div>
<div class="t d" style="left:444px;top:769.70px">M24</div>
<div class="t d" style="left:492px;top:769.70px">508</div>
<div class="t d" style="left:539px;top:769.70px">178</div>
<div class="t d" style="left:587px;top:769.70px">32</div>
<div class="t d" style="left:634.5px;top:769.70px">430</div>
<div class="t d" style="left:695px;top:769.70px">53</div>
<div class="ln" style="top:814.20px;height:2px"></div>
<div class="t d" style="left:28.299999999999997px;top:797.50px">160</div>
<div class="t d" style="left:94.19999999999999px;top:797.50px">1DTB160M</div>
<div class="t d" style="left:155px;top:797.50px">PN11</div>
<div class="t d" style="left:206.3px;top:797.50px">213</div>
<div class="t d" style="left:254px;top:797.50px">356</div>
<div class="t d" style="left:301.7px;top:797.50px">380</div>
<div class="t d" style="left:348.5px;top:797.50px">114</div>
<div class="t d" style="left:395.5px;top:797.50px">4</div>
<div class="t d" style="left:444px;top:797.50px">M24</div>
<div class="t d" style="left:492px;top:797.50px">508</div>
<div class="t d" style="left:539px;top:797.50px">178</div>
<div class="t d" style="left:587px;top:797.50px">32</div>
<div class="t d" style="left:634.5px;top:797.50px">430</div>
<div class="t d" style="left:695px;top:797.50px">53</div>
<div class="band" style="top:822.80px"></div>
<div class="ln" style="top:841.90px;height:2px"></div>
<div class="t d" style="left:28.299999999999997px;top:825.30px">180</div>
<div class="t d" style="left:94.19999999999999px;top:825.30px">1DTB180M</div>
<div class="t d" style="left:155px;top:825.30px">PN31</div>
<div class="t d" style="left:206.3px;top:825.30px">210</div>
<div class="t d" style="left:254px;top:825.30px">546</div>
<div class="t d" style="left:301.7px;top:825.30px">570</div>
<div class="t d" style="left:348.5px;top:825.30px">128</div>
<div class="t d" style="left:395.5px;top:825.30px">4</div>
<div class="t d" style="left:444px;top:825.30px">M24</div>
<div class="t d" style="left:492px;top:825.30px">636</div>
<div class="t d" style="left:539px;top:825.30px">204</div>
<div class="t d" style="left:587px;top:825.30px">50</div>
<div class="t d" style="left:634.5px;top:825.30px">470</div>
<div class="t d" style="left:695px;top:825.30px">83</div>
</body></html>
